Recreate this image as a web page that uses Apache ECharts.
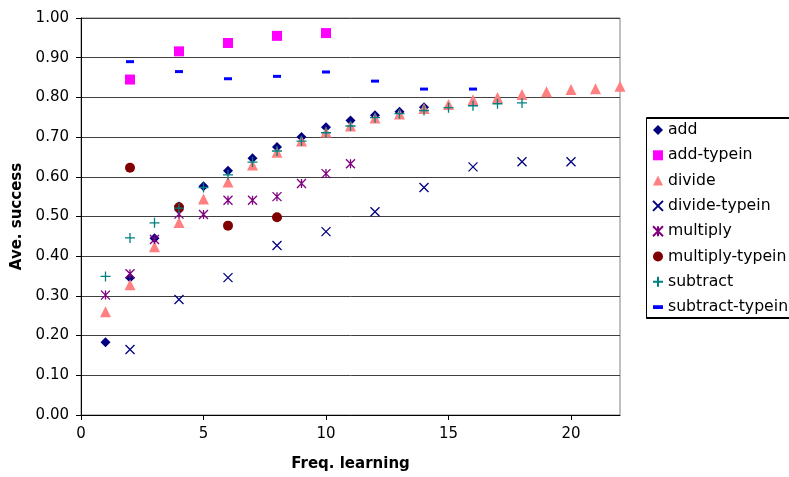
<!DOCTYPE html>
<html>
<head>
<meta charset="utf-8">
<script src="https://cdn.jsdelivr.net/npm/echarts@6/dist/echarts.min.js"></script>
<style>
html,body{margin:0;padding:0;background:#fff;}
#chart{width:789px;height:477px;}
</style>
</head>
<body>
<div id="chart"></div>
<script>
// ---- data ----
const xTicks = [0, 5, 10, 15, 20];
const yTicks = [0, 0.1, 0.2, 0.3, 0.4, 0.5, 0.6, 0.7, 0.8, 0.9, 1.0];

const addX = [1,2,3,4,5,6,7,8,9,10,11,12,13,14];
const addY = [0.183,0.346,0.445,0.525,0.576,0.615,0.647,0.675,0.700,0.725,0.742,0.755,0.764,0.775];

const addTypeinX = [2,4,6,8,10];
const addTypeinY = [0.845,0.916,0.937,0.955,0.962];

const divideX = [1,2,3,4,5,6,7,8,9,10,11,12,13,14,15,16,17,18,19,20,21,22];
const divideY = [0.260,0.328,0.424,0.485,0.544,0.587,0.630,0.662,0.690,0.713,0.728,0.748,0.758,0.772,0.782,0.794,0.800,0.807,0.814,0.820,0.822,0.828];

const divideTypeinX = [2,4,6,8,10,12,14,16,18,20];
const divideTypeinY = [0.165,0.291,0.346,0.427,0.462,0.512,0.573,0.625,0.638,0.638];

const multiplyX = [1,2,3,4,5,6,7,8,9,10,11];
const multiplyY = [0.302,0.356,0.442,0.506,0.505,0.541,0.541,0.550,0.583,0.608,0.633];

const multiplyTypeinX = [2,4,6,8];
const multiplyTypeinY = [0.623,0.523,0.477,0.498];

const subtractX = [1,2,3,4,5,6,7,8,9,10,11,12,13,14,15,16,17,18];
const subtractY = [0.349,0.446,0.484,0.521,0.573,0.605,0.637,0.665,0.690,0.711,0.728,0.749,0.759,0.767,0.774,0.779,0.784,0.786];

const subtractTypeinX = [2,4,6,8,10,12,14,16];
const subtractTypeinY = [0.890,0.865,0.847,0.853,0.864,0.841,0.821,0.821];

// ---- build ----
const zip = (xs, ys) => xs.map((x, i) => [x, ys[i]]);
const FONT = '"DejaVu Sans", Verdana, sans-serif';

const X_PATH = 'path://M0,0L10,10M0,10L10,0';
const AST_PATH = 'path://M0,0L10,10M0,10L10,0M5,0L5,10';
const PLUS_PATH = 'path://M5,0L5,10M0,5L10,5';
const DASH_PATH = 'path://M0,0L8,0L8,3L0,3Z';

function filled(name, xs, ys, symbol, size, color) {
  return {
    name, type: 'scatter', data: zip(xs, ys), symbol, symbolSize: size,
    itemStyle: { color: color, opacity: 1 },
    emphasis: { disabled: true }
  };
}
function stroked(name, xs, ys, symbol, size, color) {
  return {
    name, type: 'scatter', data: zip(xs, ys), symbol, symbolSize: size,
    itemStyle: { color: color, borderColor: color, borderWidth: 1.3, opacity: 1 },
    emphasis: { disabled: true }
  };
}

const series = [
  filled('add', addX, addY, 'diamond', 10, '#000080'),
  filled('add-typein', addTypeinX, addTypeinY, 'rect', 10, '#FF00FF'),
  filled('divide', divideX, divideY, 'triangle', 11, '#FF8080'),
  stroked('divide-typein', divideTypeinX, divideTypeinY, X_PATH, 9, '#000080'),
  stroked('multiply', multiplyX, multiplyY, AST_PATH, 9, '#800080'),
  filled('multiply-typein', multiplyTypeinX, multiplyTypeinY, 'circle', 10, '#800000'),
  stroked('subtract', subtractX, subtractY, PLUS_PATH, 10, '#008080'),
  filled('subtract-typein', subtractTypeinX, subtractTypeinY, DASH_PATH, [8, 3], '#0000FF')
];

const chart = echarts.init(document.getElementById('chart'), null, { renderer: 'canvas' });
chart.setOption({
  animation: false,
  backgroundColor: '#fff',
  textStyle: { fontFamily: FONT },
  grid: {
    left: 81, right: 169, top: 18, bottom: 60,
    show: true, borderColor: '#808080', borderWidth: 1, backgroundColor: 'transparent'
  },
  graphic: [{
    type: 'rect', left: 646, top: 117, z: 0,
    shape: { width: 200, height: 200 },
    style: { fill: '#fff', stroke: '#000', lineWidth: 1,
      shadowColor: '#000', shadowOffsetX: 0, shadowOffsetY: 1, shadowBlur: 0 },
    silent: true
  }],
  legend: {
    orient: 'vertical',
    left: 647, top: 118,
    padding: [4, 0, 2, 5],
    itemWidth: 10, itemHeight: 10, itemGap: 9.3,
    borderWidth: 0,
    z: 5,
    textStyle: { fontFamily: FONT, fontSize: 15.7, color: '#000' },
    data: series.map(s => s.name)
  },
  xAxis: {
    type: 'value', min: 0, max: 22, interval: 5,
    name: 'Freq. learning', nameLocation: 'middle', nameGap: 42,
    nameTextStyle: { fontFamily: FONT, fontSize: 15, fontWeight: 'bold', color: '#000' },
    axisLine: { show: true, onZero: false, lineStyle: { color: '#000', width: 1 } },
    axisTick: { show: true, inside: false, length: 5, customValues: xTicks, lineStyle: { color: '#000' } },
    axisLabel: { fontFamily: FONT, fontSize: 15, color: '#000', margin: 12, customValues: xTicks },
    splitLine: { show: false }
  },
  yAxis: {
    type: 'value', min: 0, max: 1, interval: 0.1,
    name: 'Ave. success', nameLocation: 'middle', nameGap: 55, nameRotate: 90,
    nameTextStyle: { fontFamily: FONT, fontSize: 15, fontWeight: 'bold', color: '#000' },
    axisLine: { show: true, lineStyle: { color: '#000', width: 1 } },
    axisTick: { show: true, inside: false, length: 5, lineStyle: { color: '#000' } },
    axisLabel: { fontFamily: FONT, fontSize: 15, color: '#000', margin: 12,
      formatter: v => v.toFixed(2) },
    splitLine: { show: true, lineStyle: { color: '#404040', width: 1 } }
  },
  series: series
});
</script>
</body>
</html>
